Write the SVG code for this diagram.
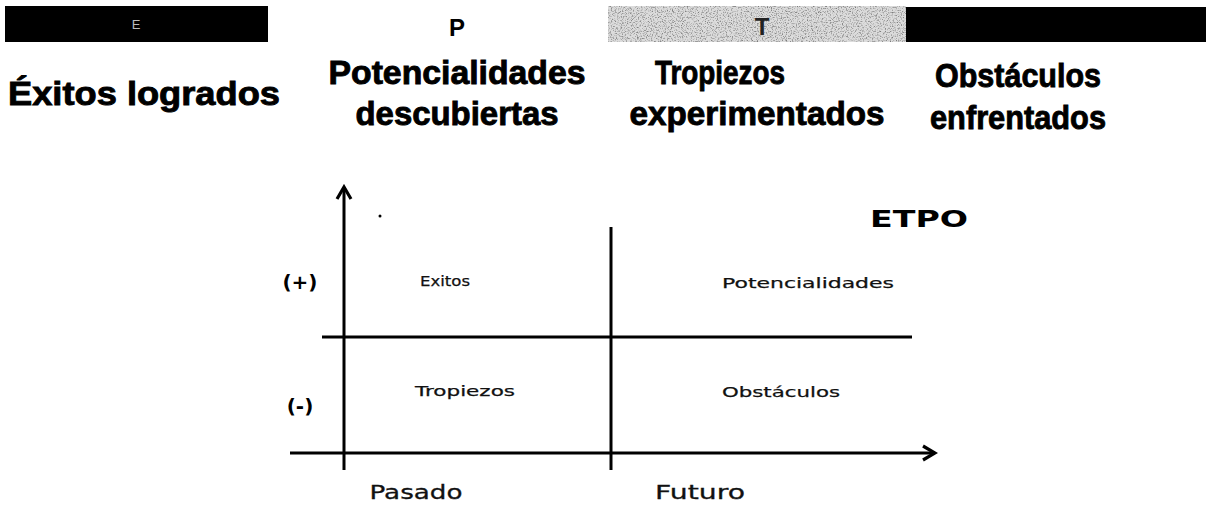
<svg xmlns="http://www.w3.org/2000/svg" width="1208" height="505" viewBox="0 0 1208 505">
<style>
.h{font-family:"Liberation Sans",Arial,sans-serif;font-weight:bold;font-size:34px;fill:#000;stroke:#000;stroke-width:0.9;text-anchor:middle}
.s{font-family:"DejaVu Sans",Verdana,sans-serif;font-size:14.5px;fill:#111;stroke:#111;stroke-width:0.25;text-anchor:middle}
.ax{font-family:"DejaVu Sans",Verdana,sans-serif;font-size:20px;fill:#111;stroke:#111;stroke-width:0.3;text-anchor:middle}
.b{font-family:"DejaVu Sans",Verdana,sans-serif;font-weight:bold;fill:#000;text-anchor:middle}
.ln{stroke:#000;stroke-width:3;fill:none}
</style>
<defs>
<filter id="noise" x="0" y="0" width="100%" height="100%">
<feTurbulence type="fractalNoise" baseFrequency="0.8" numOctaves="2" seed="3" result="n"/>
<feColorMatrix in="n" type="matrix" values="0 0 0 0 0.2  0 0 0 0 0.2  0 0 0 0 0.2  0 0 0 3 -1.45" result="d"/>
<feComposite in="d" in2="SourceGraphic" operator="in"/>
</filter>
<marker id="arr" viewBox="0 0 20 20" refX="17" refY="10" markerWidth="20" markerHeight="20" markerUnits="userSpaceOnUse" orient="auto">
<polyline points="5,3 17,10 5,17" fill="none" stroke="#000" stroke-width="3.2"/>
</marker>
</defs>
<rect width="1208" height="505" fill="#fff"/>
<g id="bars">
<rect x="5" y="6" width="263" height="36" fill="#000"/>
<text x="136" y="29" font-family="Liberation Sans,Arial,sans-serif" font-size="13" fill="#bbb" text-anchor="middle">E</text>
<text x="457" y="36" font-family="Liberation Sans,Arial,sans-serif" font-weight="bold" font-size="24" text-anchor="middle">P</text>
<rect x="608" y="6" width="298" height="36" fill="#dcdcdc"/>
<rect x="608" y="6" width="298" height="36" fill="#dcdcdc" filter="url(#noise)"/>
<text x="762" y="35" font-family="Liberation Sans,Arial,sans-serif" font-weight="bold" font-size="24" fill="#222" text-anchor="middle">T</text>
<rect x="906" y="7" width="300" height="35" fill="#000"/>
</g>
<g id="headings">
<text class="h" x="144" y="105" textLength="272" lengthAdjust="spacingAndGlyphs">Éxitos logrados</text>
<text class="h" x="457" y="84" textLength="257" lengthAdjust="spacingAndGlyphs">Potencialidades</text>
<text class="h" x="457" y="125" textLength="203" lengthAdjust="spacingAndGlyphs">descubiertas</text>
<text class="h" x="720" y="84" textLength="130" lengthAdjust="spacingAndGlyphs">Tropiezos</text>
<text class="h" x="757" y="125" textLength="255" lengthAdjust="spacingAndGlyphs">experimentados</text>
<text class="h" x="1018" y="87" textLength="166" lengthAdjust="spacingAndGlyphs">Obstáculos</text>
<text class="h" x="1018" y="129" textLength="176" lengthAdjust="spacingAndGlyphs">enfrentados</text>
</g>
<g id="connectors">
<line class="ln" x1="344" y1="470" x2="344" y2="187" marker-end="url(#arr)"/>
<line class="ln" x1="611" y1="227" x2="611" y2="470"/>
<line class="ln" x1="322" y1="337" x2="912" y2="337"/>
<line class="ln" x1="290" y1="453" x2="935" y2="453" marker-end="url(#arr)"/>
<circle cx="380" cy="216" r="1.5" fill="#000"/>
</g>
<g id="labels">
<text class="b" x="919" y="227" font-size="23" textLength="98" lengthAdjust="spacingAndGlyphs">ETPO</text>
<text class="b" x="300" y="289" font-size="20">(+)</text>
<text class="b" x="300" y="413" font-size="20">(-)</text>
<text class="s" x="445" y="286" textLength="50" lengthAdjust="spacingAndGlyphs">Exitos</text>
<text class="s" x="808" y="288" textLength="172" lengthAdjust="spacingAndGlyphs">Potencialidades</text>
<text class="s" x="465" y="396" textLength="100" lengthAdjust="spacingAndGlyphs">Tropiezos</text>
<text class="s" x="781" y="397" textLength="118" lengthAdjust="spacingAndGlyphs">Obstáculos</text>
<text class="ax" x="416" y="499" textLength="93" lengthAdjust="spacingAndGlyphs">Pasado</text>
<text class="ax" x="700" y="499" textLength="90" lengthAdjust="spacingAndGlyphs">Futuro</text>
</g>
</svg>
